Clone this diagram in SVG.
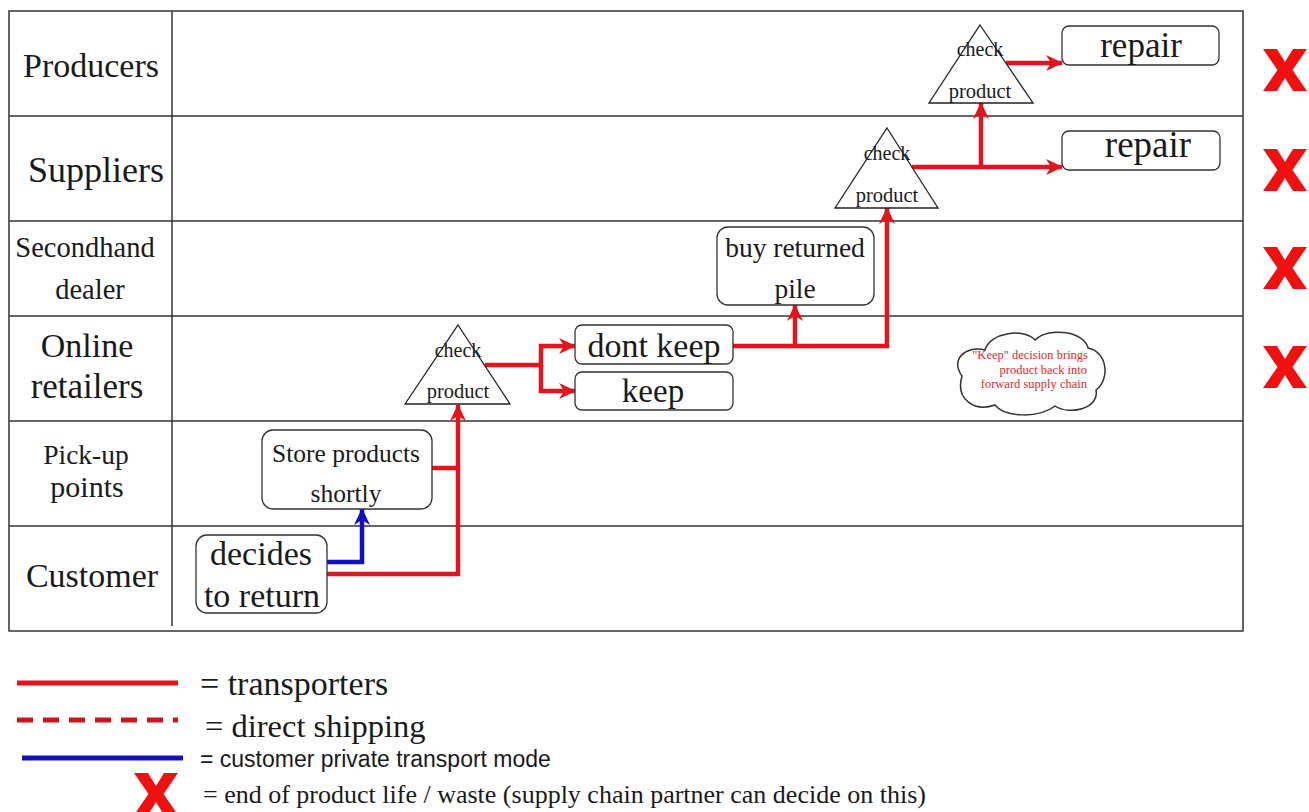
<svg xmlns="http://www.w3.org/2000/svg" width="1309" height="812" viewBox="0 0 1309 812">
<style>
  .frame { fill: none; stroke: #333; stroke-width: 1.5; }
  .grid { stroke: #333; stroke-width: 1.5; }
  .box { fill: #fff; stroke: #333; stroke-width: 1.3; }
  .tri { fill: #fff; stroke: #222; stroke-width: 1.3; }
  .t { font-family: "Liberation Serif", "Times New Roman", serif; fill: #1a1a1a; text-anchor: middle; }
  .red { fill: none; stroke: #e3141b; stroke-width: 4.5; }
  .blue { fill: none; stroke: #1010c0; stroke-width: 4.5; }
  .xm { fill: #f01010; }
  .cloudtxt { font-family: "Liberation Serif", "Times New Roman", serif; fill: #e02828; font-size: 12.5px; text-anchor: end; }
</style>
<defs>
  <marker id="arR" markerUnits="userSpaceOnUse" markerWidth="18" markerHeight="16" refX="16" refY="8" orient="auto">
    <path d="M0,0 L17,8 L0,16 L5,8 Z" fill="#e3141b"/>
  </marker>
  <marker id="arB" markerUnits="userSpaceOnUse" markerWidth="18" markerHeight="16" refX="16" refY="8" orient="auto">
    <path d="M0,0 L17,8 L0,16 L5,8 Z" fill="#1010c0"/>
  </marker>
  <path id="xmark" d="M0,0 L14,0 L22,13 L30,0 L44,0 L29.5,21 L44,42 L30,42 L22,29 L14,42 L0,42 L14.5,21 Z"/>
</defs>
<rect width="1309" height="812" fill="#fff"/>

<g id="table">
  <rect class="frame" x="9" y="11" width="1234" height="620"/>
  <line class="grid" x1="172" y1="11" x2="172" y2="626"/>
  <line class="grid" x1="9" y1="116" x2="1243" y2="116"/>
  <line class="grid" x1="9" y1="221" x2="1243" y2="221"/>
  <line class="grid" x1="9" y1="316" x2="1243" y2="316"/>
  <line class="grid" x1="9" y1="421" x2="1243" y2="421"/>
  <line class="grid" x1="9" y1="526" x2="1243" y2="526"/>
</g>

<g id="lanes">
  <text class="t" x="91" y="77" font-size="34">Producers</text>
  <text class="t" x="96" y="182" font-size="36">Suppliers</text>
  <text class="t" x="85" y="257" font-size="28.5">Secondhand</text>
  <text class="t" x="90" y="299" font-size="28.5">dealer</text>
  <text class="t" x="87" y="357" font-size="34">Online</text>
  <text class="t" x="87" y="398" font-size="35">retailers</text>
  <text class="t" x="86" y="464" font-size="27.5">Pick-up</text>
  <text class="t" x="87" y="497" font-size="30">points</text>
  <text class="t" x="92" y="587" font-size="34">Customer</text>
</g>

<g id="connectors">
  <path class="blue" d="M327,562 H362 V509" marker-end="url(#arB)"/>
  <path class="red" d="M327,574 H458 V405" marker-end="url(#arR)"/>
  <path class="red" d="M432,468 H458"/>
  <path class="red" d="M485,365 H541 V346 H575" marker-end="url(#arR)"/>
  <path class="red" d="M541,365 V391 H575" marker-end="url(#arR)"/>
  <path class="red" d="M733,346 H887 V208" marker-end="url(#arR)"/>
  <path class="red" d="M795,346 V305" marker-end="url(#arR)"/>
  <path class="red" d="M912,167 H1062" marker-end="url(#arR)"/>
  <path class="red" d="M981,167 V103" marker-end="url(#arR)"/>
  <path class="red" d="M1006,63 H1062" marker-end="url(#arR)"/>
</g>

<g id="decides">
  <rect class="box" x="196" y="535" width="131" height="78" rx="11"/>
  <text class="t" x="261" y="565" font-size="34">decides</text>
  <text class="t" x="262" y="607" font-size="34">to return</text>
</g>
<g id="store">
  <rect class="box" x="262" y="430" width="170" height="79" rx="11"/>
  <text class="t" x="346" y="462" font-size="25.5">Store products</text>
  <text class="t" x="346" y="502" font-size="25.5">shortly</text>
</g>
<g id="check1">
  <polygon class="tri" points="458,325 510,404 405,404"/>
  <text class="t" x="458" y="357" font-size="20">check</text>
  <text class="t" x="458" y="398" font-size="20.5">product</text>
</g>
<g id="dontkeep">
  <rect class="box" x="575" y="325" width="158" height="39" rx="7"/>
  <text class="t" x="654" y="357" font-size="34">dont keep</text>
</g>
<g id="keep">
  <rect class="box" x="575" y="372" width="158" height="38" rx="7"/>
  <text class="t" x="653" y="402" font-size="33">keep</text>
</g>
<g id="buy">
  <rect class="box" x="717" y="227" width="157" height="78" rx="11"/>
  <text class="t" x="795" y="257" font-size="27.5">buy returned</text>
  <text class="t" x="795" y="298" font-size="27.5">pile</text>
</g>
<g id="check2">
  <polygon class="tri" points="887,128 938,208 835,208"/>
  <text class="t" x="887" y="160" font-size="20">check</text>
  <text class="t" x="887" y="202" font-size="20.5">product</text>
</g>
<g id="check3">
  <polygon class="tri" points="980,25 1033,103 929,103"/>
  <text class="t" x="980" y="56" font-size="20">check</text>
  <text class="t" x="980" y="98" font-size="20.5">product</text>
</g>
<g id="repair1">
  <rect class="box" x="1062" y="26" width="157" height="39" rx="7"/>
  <text class="t" x="1141" y="57" font-size="35">repair</text>
</g>
<g id="repair2">
  <rect class="box" x="1062" y="131" width="158" height="39" rx="7"/>
  <text class="t" x="1148" y="157" font-size="37">repair</text>
</g>

<g id="cloud">
  <path d="M962,376 C950,360 965,345 985,350 C990,332 1025,328 1035,340 C1050,326 1085,332 1088,348 C1108,352 1110,380 1096,390 C1100,408 1070,416 1055,406 C1040,418 1005,418 995,405 C975,412 955,400 962,376 Z" fill="#fff" stroke="#333" stroke-width="1.5"/>
  <text class="cloudtxt" x="1088" y="359">"Keep" decision brings</text>
  <text class="cloudtxt" x="1087" y="374">product back into</text>
  <text class="cloudtxt" x="1087" y="388">forward supply chain</text>
</g>

<g id="endmarks">
  <use href="#xmark" class="xm" x="1263" y="49"/>
  <use href="#xmark" class="xm" x="1263" y="149"/>
  <use href="#xmark" class="xm" x="1263" y="247"/>
  <use href="#xmark" class="xm" x="1263" y="346"/>
</g>

<g id="legend">
  <line x1="17" y1="683" x2="178" y2="683" stroke="#e3141b" stroke-width="5"/>
  <text x="200" y="695" font-family="Liberation Serif, serif" font-size="34" fill="#1a1a1a">= transporters</text>
  <line x1="17" y1="720" x2="178" y2="720" stroke="#c8161c" stroke-width="5" stroke-dasharray="16,10"/>
  <text x="205" y="737" font-family="Liberation Serif, serif" font-size="32.5" fill="#1a1a1a">= direct shipping</text>
  <line x1="22" y1="758" x2="183" y2="758" stroke="#1010c0" stroke-width="5"/>
  <text x="200" y="767" font-family="Liberation Sans, Arial, sans-serif" font-size="23" fill="#1a1a1a">= customer private transport mode</text>
  <use href="#xmark" class="xm" x="134" y="773"/>
  <text x="203" y="803" font-family="Liberation Serif, serif" font-size="26" fill="#1a1a1a">= end of product life / waste (supply chain partner can decide on this)</text>
</g>
</svg>
